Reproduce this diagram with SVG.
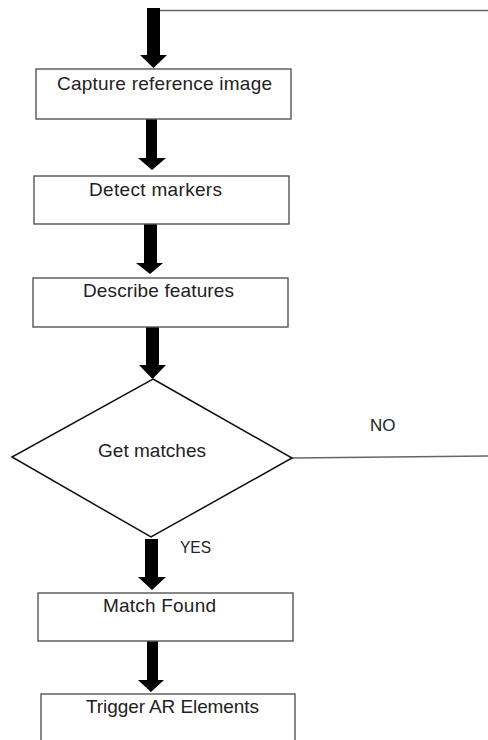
<svg xmlns="http://www.w3.org/2000/svg" width="488" height="740" viewBox="0 0 488 740">
<style>
.box{fill:#fff;stroke:#555;stroke-width:1.4}
.dia{fill:#fff;stroke:#111;stroke-width:1.5}
.t{font-family:"Liberation Sans",Arial,sans-serif;font-size:19px;fill:#222}
.s{font-family:"Liberation Sans",Arial,sans-serif;font-size:17px;fill:#222}
.arr{fill:#000}
.ln{stroke:#666;stroke-width:1.5;fill:none}
</style>
<rect width="488" height="740" fill="#fff"/>
<g id="connectors">
<path class="ln" d="M160 10.5 H488"/>
<path class="ln" d="M292 458 L488 456"/>
<path class="arr" d="M147 8 H160 V55 H167 L153.5 68 L140 55 H147 Z"/>
<path class="arr" d="M146 119 H157 V158 H166 L152 170 L138 158 H146 Z"/>
<path class="arr" d="M144 224 H157 V263 H163 L150 274 L136 263 H144 Z"/>
<path class="arr" d="M146 327 H159 V365 H166 L152.5 379 L139 365 H146 Z"/>
<path class="arr" d="M145 539 H158 V577 H166 L152 590 L138 577 H145 Z"/>
<path class="arr" d="M147 641 H158 V680 H164 L151 692 L138 680 H147 Z"/>
<text class="s" x="370" y="431">NO</text>
<text class="s" x="180" y="553" textLength="31" lengthAdjust="spacingAndGlyphs">YES</text>
</g>
<g id="capture">
<rect class="box" x="36" y="69" width="255" height="50"/>
<text class="t" x="57" y="90" textLength="215">Capture reference image</text>
</g>
<g id="detect">
<rect class="box" x="34" y="176" width="255" height="48"/>
<text class="t" x="89" y="196" textLength="133">Detect markers</text>
</g>
<g id="describe">
<rect class="box" x="33" y="278" width="255" height="49"/>
<text class="t" x="83" y="297" textLength="151">Describe features</text>
</g>
<g id="getmatches">
<polygon class="dia" points="153,379 292,458 151,537 12,457"/>
<text class="t" x="98" y="457" textLength="108">Get matches</text>
</g>
<g id="matchfound">
<rect class="box" x="38" y="593" width="255" height="48"/>
<text class="t" x="103" y="612" textLength="113">Match Found</text>
</g>
<g id="trigger">
<rect class="box" x="41" y="694" width="254" height="60"/>
<text class="t" x="86" y="713" textLength="173">Trigger AR Elements</text>
</g>
</svg>
